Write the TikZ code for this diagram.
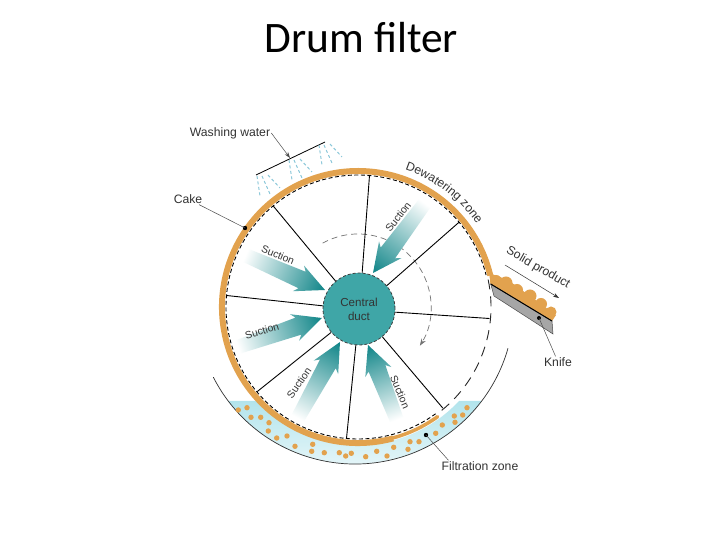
\documentclass[tikz,border=0pt]{standalone}
\usepackage{fontspec}
\setmainfont{Liberation Sans}
\newfontfamily\titlefont{Carlito}
\usetikzlibrary{arrows.meta,decorations.text}
\definecolor{cake}{HTML}{E2A24E}
\definecolor{duct}{HTML}{3FA6A7}
\definecolor{ducttip}{HTML}{0E8487}
\definecolor{liquid}{HTML}{B2E4EC}
\definecolor{spray}{HTML}{8CC8DA}
\definecolor{labeltext}{HTML}{333333}
\newcommand{\labelfont}{\fontsize{12.2}{14}\selectfont}
\newcommand{\smalllabelfont}{\fontsize{10.4}{12}\selectfont}

\begin{document}
\begin{tikzpicture}[x=1pt,y=1pt,
  lbl/.style={font=\labelfont,text=labeltext,inner sep=1pt},
  suctionlbl/.style={font=\smalllabelfont,text=labeltext,inner sep=1pt},
  leader/.style={black!70,line width=0.5pt},
  spoke/.style={black,line width=0.9pt},
  suction/.style={left color=white,middle color=duct!80!white,right color=ducttip,draw=none},
  blob/.style={fill=cake,draw=none},
  marker/.style={fill=black}]
  \useasboundingbox[fill=white] (-358,-233) rectangle (362,307);

  \node[font=\titlefont\fontsize{43.5}{48}\selectfont] (title) at (3.5,269) {Drum filter};

  % Liquid in the tank
  \path[top color=liquid,bottom color=liquid!30] (-130,-94) arc[start angle=217.1, end angle=322.9, radius=159]
    -- (101,-94) arc[start angle=-42.9, end angle=-137.1, radius=138] -- cycle;
  \draw[black!80,line width=0.7pt] (207:159) ++(-3,2) arc[start angle=207, end angle=344.2, radius=159];

  % Particles
  \foreach \x/\y in {-119.7/-103,-111/-100.7,-107/-110.3,-97.3/-110.3,-89/-115.7,-89.7/-124,-81.3/-131,
    -71/-129,-63/-139.3,-45.3/-137.3,-46.3/-144.3,-33.7/-145.7,-18.7/-145.7,-12.3/-149,-6.7/-146.3,
    7.7/-149.7,18.7/-144.3,29/-149,35.7/-140.3,50/-142.3,52/-134.7,61/-134.7,77.7/-126.3,84.3/-118,
    96.3/-109,104.7/-108,97/-115.3,109/-100.7}
    \fill[cake] (\x,\y) circle (2.7);

  % Drum
  \draw[black,line width=0.9pt,dash pattern=on 4pt off 2.5pt] (-54:132) arc[start angle=-54, end angle=-346, radius=132];
  \draw[black!85,line width=0.9pt,dash pattern=on 10pt off 7pt] (-51:133) arc[start angle=-51, end angle=14, radius=133];
  \draw[cake,line width=3.5pt,line cap=round] (-54:135.5) arc[start angle=-54, end angle=-78, radius=135.5];
  \draw[cake,line width=6pt] (-75:136) arc[start angle=-75, end angle=-346.6, radius=136];

  % Rotation
  \draw[black!55,line width=0.7pt,dash pattern=on 6pt off 4pt,-{Stealth[length=7pt,width=5pt]}]
    (119:73) arc[start angle=119, end angle=-32, radius=73];

  % Central duct and spokes
  \node[circle,fill=duct,draw=black!75,densely dashed,line width=0.8pt,minimum size=72pt,inner sep=0pt,
    align=center,font=\fontsize{11.6}{14}\selectfont,text=black!80] (central) at (1,-2) {Central\\duct};
  \foreach \a in {-5,40,85,130,175,220,265,310}
    \draw[spoke] (central.\a) -- (\a:132);

  % Suction arrows
  \foreach \tx/\ty/\dir/\len in {-33/17/-23.6/87,-36/-11/19/89,-18/-35/61/87,10/-38/111/80,15/34/233.4/87}
    \path[suction,transform canvas={shift={(\tx,\ty)},rotate=\dir}]
      (-\len,-7) -- (-25,-9) -- (-29,-14) -- (0,0) -- (-29,14) -- (-25,9) -- (-\len,7) -- cycle;
  \node[suctionlbl,rotate=-23] (suctiona) at (-80,52) {Suction};
  \node[suctionlbl,rotate=17] (suctionb) at (-96,-24) {Suction};
  \node[suctionlbl,rotate=55] (suctionc) at (-59,-76) {Suction};
  \node[suctionlbl,rotate=-67] (suctiond) at (42,-85) {Suction};
  \node[suctionlbl,rotate=52] (suctione) at (40,90) {Suction};

  % Washing water
  \coordinate (pipestart) at (-102,132);
  \coordinate (pipeend) at (-33,165);
  \coordinate (pipemid) at (-68,149);
  \draw[black,line width=0.8pt] (pipestart) -- (pipeend);
  \foreach \bx/\by in {-101/131,-69/147,-39/162}
    \foreach \ax/\ay/\cx/\cy in {0/0/3/-20,5/0/13/-18,11/1/23/-12}
      \draw[spray,line width=1pt,dash pattern=on 3pt off 2.5pt] (\bx+\ax,\by+\ay) -- (\bx+\cx,\by+\cy);
  \node[lbl] (washing) at (-128,174) {Washing water};
  \draw[leader,-{Stealth[length=6pt,width=4pt]}] (washing.east) -- (pipemid);

  % Knife and solid product
  \coordinate (knifea) at (132.7,23);
  \coordinate (knifeb) at (194,-14);
  \coordinate (knifec) at (195,-27);
  \coordinate (knifed) at (136,11);
  \fill[blob] (131,34) -- (knifea) -- (knifeb) -- (198,-8) -- (150,27) -- cycle;
  \foreach \x/\y/\r in {138/26/6,148/24/6.5,159/17/6,172/11/6.5,183/3/6,193/-5/5.5}
    \fill[blob] (\x,\y) circle (\r);
  \draw[black!70,fill=black!35,line width=0.5pt] (knifea) -- (knifeb) -- (knifec) -- (knifed) -- cycle;
  \draw[black,line width=1pt] (knifea) -- (knifeb);
  \coordinate (productstart) at (147,42);
  \coordinate (productend) at (201,9);
  \draw[black!80,line width=0.5pt,-{Stealth[length=6pt,width=4pt]}] (productstart) -- (productend);
  \node[lbl,rotate=-30] (solid) at (180,39) {Solid product};

  % Dewatering zone
  \path[decorate,decoration={text along path,text={|\labelfont|Dewatering zone},text align=center,text color=labeltext}]
    (78:145) arc[start angle=78, end angle=28, radius=145];

  % Leaders
  \coordinate (cakedot) at (-113,79);
  \coordinate (knifedot) at (181,-11);
  \coordinate (filtdot) at (68,-128);
  \fill[marker] (cakedot) circle (2.2);
  \fill[marker] (knifedot) circle (2);
  \fill[marker] (filtdot) circle (2.2);
  \node[lbl] (cakelabel) at (-170,108) {Cake};
  \node[lbl] (knifelabel) at (200,-55) {Knife};
  \node[lbl] (filtlabel) at (122,-159) {Filtration zone};
  \draw[leader] (cakelabel) -- (cakedot);
  \draw[leader] (knifelabel) -- (knifedot);
  \draw[leader] (filtlabel.north west) ++(8,0) -- (filtdot);
\end{tikzpicture}
\end{document}
